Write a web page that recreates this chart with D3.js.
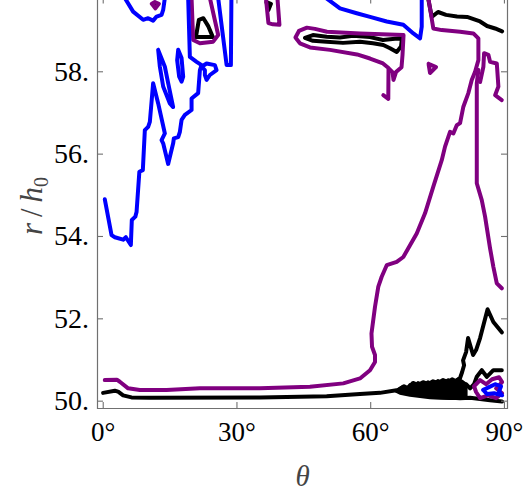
<!DOCTYPE html>
<html>
<head>
<meta charset="utf-8">
<script src="https://cdn.jsdelivr.net/npm/d3@7"></script>
<style>
  body { margin: 0; background: #fff; }
</style>
</head>
<body>
<div id="chart"></div>
<script>
// contour lines, each point is [theta in degrees, r/h0]
var blueLines = [
  [[0.47,54.89],[1.98,54.02],[2.72,53.97],[4.58,53.91],[5.19,53.97],[6.31,53.78],[6.53,54.39],[7.32,54.47],[7.59,54.58],[8.22,55.56],[9.00,55.60],[9.45,56.57],[10.19,56.65],[10.57,56.77],[11.31,57.71],[12.44,57.22],[13.94,56.49],[13.20,56.33],[13.56,56.25],[14.68,55.75],[15.80,56.25],[15.96,56.37],[16.93,56.40],[17.31,56.53],[17.69,56.82],[18.43,56.94],[19.93,57.06],[19.93,57.34],[21.41,57.47],[21.80,58.03],[22.18,58.15],[21.06,58.23],[19.55,58.35],[19.17,59.78]],
  [[4.96,59.78],[6.82,59.45],[9.07,59.25],[10.19,59.29],[11.31,59.23],[12.08,59.33],[13.20,59.37],[13.56,59.49],[13.94,59.78]],
  [[12.44,58.52],[13.94,58.11],[14.68,57.71],[15.80,57.13],[15.06,57.22],[13.56,57.63],[12.82,58.11],[12.44,58.52]],
  [[16.93,58.52],[17.69,58.32],[18.05,57.87],[17.69,57.75],[17.15,57.87],[16.70,58.27],[16.93,58.52]],
  [[22.18,58.11],[23.30,58.19],[25.16,58.15],[25.54,58.03],[24.04,57.91],[23.30,57.79],[22.92,57.91],[22.92,58.03],[22.18,58.11]],
  [[25.90,59.78],[27.79,58.15],[28.75,58.15],[28.87,59.78]],
  [[50.08,59.78],[53.22,59.53],[56.97,59.41],[59.96,59.32],[63.71,59.21],[67.43,59.13],[69.68,58.92],[71.18,58.80],[71.56,59.08],[71.56,59.78]],
  [[85.32,50.26],[86.66,50.33],[88.02,50.40],[89.36,50.35],[88.91,50.23],[89.59,50.13],[87.79,50.18],[86.22,50.16],[85.32,50.26]]
];

var purpleLines = [
  [[19.93,59.78],[20.29,58.76],[21.80,58.68],[24.78,58.72],[25.90,58.88],[24.04,59.78]],
  [[11.02,59.64],[11.70,59.68],[12.59,59.64],[11.81,59.53],[11.02,59.64]],
  [[36.61,59.78],[37.17,59.17],[38.18,59.14],[39.64,59.13],[39.31,59.61],[39.19,59.78]],
  [[62.94,57.42],[64.06,57.33],[64.11,58.08],[62.87,58.19],[59.96,58.31],[57.04,58.41],[50.98,58.52],[46.49,58.58],[44.24,58.68],[43.23,58.82],[44.02,58.98],[45.81,59.06],[47.61,59.03],[50.30,58.96],[57.71,58.92],[67.48,58.88],[67.25,58.40],[67.03,58.10],[65.79,57.98],[65.23,57.79],[65.01,57.98],[64.22,58.06]],
  [[73.09,58.18],[74.77,58.10],[73.42,57.96],[73.09,58.18]],
  [[73.04,59.78],[74.16,59.04],[76.05,59.00],[80.16,58.96],[83.14,58.92],[84.27,58.80],[84.27,58.27],[83.53,57.99],[82.78,57.79],[82.02,57.47],[80.90,57.14],[80.16,56.74],[79.42,56.69],[78.65,56.49],[77.91,56.53],[76.79,56.17],[76.05,55.84],[74.16,55.20],[72.30,54.55],[70.44,54.06],[68.55,53.70],[67.43,53.49],[65.95,53.37],[63.71,53.29],[62.58,53.01],[61.82,52.77],[61.08,52.28],[60.29,51.63],[60.41,51.31],[61.08,51.11],[61.08,50.94],[59.96,50.74],[57.71,50.54],[53.96,50.42],[46.49,50.34],[35.26,50.30],[21.80,50.30],[14.32,50.26],[8.33,50.26],[5.70,50.30],[3.84,50.46],[3.17,50.51],[0.47,50.50]],
  [[84.27,58.03],[83.91,57.71],[83.91,56.49],[83.91,55.28],[85.03,54.87],[85.77,54.47],[86.89,53.70],[87.63,53.25],[88.40,52.85],[89.52,52.73]],
  [[84.65,57.74],[85.39,58.11],[85.55,58.44],[86.51,58.40],[86.89,58.23],[88.40,58.19],[88.76,57.63],[88.02,57.42],[89.52,57.30]],
  [[83.30,50.35],[84.65,50.50],[85.99,50.40],[87.34,50.52],[88.91,50.57],[89.59,50.45],[88.24,50.30],[89.59,50.18],[88.24,50.06],[86.44,50.13],[84.65,50.06],[83.75,50.21],[83.30,50.35]]
];

var blackLines = [
  [[20.90,58.83],[21.57,59.25],[22.58,59.29],[23.70,59.09],[24.71,58.83],[20.90,58.83]],
  [[11.36,59.62],[11.81,59.66],[12.26,59.62],[11.81,59.56],[11.36,59.62]],
  [[36.72,59.68],[37.73,59.64],[37.17,59.49],[36.72,59.68]],
  [[45.37,58.81],[47.16,58.88],[50.24,58.84],[53.22,58.82],[56.14,58.86],[59.96,58.83],[62.87,58.76],[67.14,58.81],[66.91,58.60],[65.95,58.47],[64.45,58.56],[62.94,58.64],[60.63,58.68],[57.71,58.72],[53.90,58.69],[50.24,58.72],[47.16,58.74],[45.37,58.81]],
  [[72.98,59.78],[73.81,59.32],[75.22,59.44],[77.02,59.37],[79.48,59.33],[81.73,59.32],[84.65,59.21],[86.22,59.10],[88.02,59.04],[89.59,58.97]],
  [[0.09,50.19],[2.72,50.24],[3.46,50.22],[4.58,50.13],[6.46,50.08],[10.57,50.07],[35.26,50.08],[50.24,50.11],[57.71,50.16],[62.20,50.19],[66.24,50.26],[67.59,50.35],[68.49,50.30],[69.61,50.43],[70.73,50.38],[71.86,50.45],[72.98,50.40],[74.10,50.47],[75.22,50.43],[76.35,50.50],[77.47,50.45],[78.37,50.52],[79.26,50.47],[80.16,50.55],[80.61,50.69],[81.06,50.86],[80.83,50.98],[81.51,51.18],[81.96,51.52],[83.08,51.11],[83.75,51.23],[84.65,51.52],[86.33,52.22],[87.63,51.91],[89.52,51.66]],
  [[66.69,50.23],[68.04,50.28],[69.39,50.23],[70.73,50.30],[72.08,50.26],[73.43,50.33],[74.77,50.28],[76.12,50.35],[77.47,50.30],[78.82,50.38],[80.16,50.33],[81.51,50.40],[82.41,50.30],[83.30,50.40],[83.91,50.58],[85.03,50.74],[86.15,50.58],[87.63,50.74],[89.52,50.74]],
  [[66.69,50.23],[71.18,50.13],[75.67,50.09],[80.16,50.06],[82.41,50.07],[84.65,50.04],[86.89,50.01],[89.59,49.98]]
];

// where many black levels crowd together near the bottom they merge into a band
var blackBand = [[65.79,50.23],[67.14,50.33],[68.04,50.28],[68.94,50.39],[69.84,50.34],[70.73,50.44],[71.86,50.38],[72.98,50.46],[74.10,50.40],[75.22,50.49],[76.35,50.43],[77.47,50.51],[78.59,50.45],[79.71,50.53],[80.61,50.47],[81.51,50.40],[81.51,50.11],[80.16,50.05],[77.92,50.05],[75.67,50.06],[73.43,50.07],[71.18,50.10],[68.94,50.13],[66.69,50.18]];

var xTicks = [0, 30, 60, 90];
var yTicks = [50, 52, 54, 56, 58];

var svgWidth = 523;
var svgHeight = 495;

var plotLeft = 97.5, plotRight = 507.5, plotTop = -2, plotBottom = 408.5;
var serif = "'Liberation Serif', 'Times New Roman', serif";

var svg = d3.select("#chart")
  .append("svg")
  .attr("width", svgWidth)
  .attr("height", svgHeight);

var xScale = d3.scaleLinear().domain([-1.17, 90.8]).range([plotLeft, plotRight]);
var yScale = d3.scaleLinear().domain([49.81, 59.78]).range([plotBottom, plotTop]);

svg.append("clipPath")
  .attr("id", "plotClip")
  .append("rect")
  .attr("x", plotLeft)
  .attr("y", plotTop)
  .attr("width", plotRight - plotLeft)
  .attr("height", plotBottom - plotTop);

var line = d3.line()
  .x(d => xScale(d[0]))
  .y(d => yScale(d[1]));

var curves = svg.append("g").attr("clip-path", "url(#plotClip)");

curves.append("path")
  .attr("d", line(blackBand) + "Z")
  .attr("fill", "#000")
  .attr("stroke", "#000")
  .attr("stroke-width", 3)
  .attr("stroke-linejoin", "round");

// draw lower levels first
[[blackLines, "#000000"], [purpleLines, "#800080"], [blueLines, "#0000ff"]].forEach(function(set) {
  curves.selectAll(null)
    .data(set[0])
    .enter()
    .append("path")
    .attr("d", line)
    .attr("fill", "none")
    .attr("stroke", set[1])
    .attr("stroke-width", 4)
    .attr("stroke-linejoin", "round")
    .attr("stroke-linecap", "round");
});

// frame: ticks point inward like the original
var frameColor = "#707070";

var bottomAxis = d3.axisBottom(xScale)
  .tickValues(xTicks)
  .tickSizeInner(-6)
  .tickSizeOuter(0)
  .tickPadding(14)
  .tickFormat(d => d + "°");

var leftAxis = d3.axisLeft(yScale)
  .tickValues(yTicks)
  .tickSizeInner(-6)
  .tickSizeOuter(0)
  .tickPadding(8)
  .tickFormat(d => d + ".");

var topAxis = d3.axisTop(xScale).tickValues(xTicks).tickSizeInner(-6).tickSizeOuter(0).tickFormat("");
var rightAxis = d3.axisRight(yScale).tickValues(yTicks).tickSizeInner(-6).tickSizeOuter(0).tickFormat("");

var xAxisG = svg.append("g")
  .attr("transform", `translate(0, ${plotBottom - 0.5})`)
  .call(bottomAxis);

var yAxisG = svg.append("g")
  .attr("transform", `translate(${plotLeft - 0.5}, 0)`)
  .call(leftAxis);

svg.append("g")
  .attr("transform", `translate(0, ${plotTop - 0.5})`)
  .call(topAxis);

svg.append("g")
  .attr("transform", `translate(${plotRight - 0.5}, 0)`)
  .call(rightAxis);

svg.selectAll(".domain").attr("stroke", frameColor).attr("stroke-width", 1.2);
svg.selectAll(".tick line").attr("stroke", frameColor).attr("stroke-width", 1.1);
svg.selectAll(".tick text")
  .attr("font-family", serif)
  .attr("font-size", 28)
  .attr("fill", "#000");
xAxisG.selectAll(".tick text").attr("font-size", 27);

// axis titles
svg.append("text")
  .attr("x", (plotLeft + plotRight) / 2)
  .attr("y", 486)
  .attr("text-anchor", "middle")
  .attr("font-family", serif)
  .attr("font-style", "italic")
  .attr("font-size", 29)
  .attr("fill", "#444")
  .text("θ");

var yTitle = svg.append("text")
  .attr("transform", "translate(42, 206) rotate(-90)")
  .attr("text-anchor", "middle")
  .attr("font-family", serif)
  .attr("font-size", 31)
  .attr("fill", "#444");

yTitle.append("tspan").attr("font-style", "italic").text("r");
yTitle.append("tspan").attr("dx", 6).text("/");
yTitle.append("tspan").attr("dx", 6).attr("font-style", "italic").text("h");
yTitle.append("tspan").attr("font-size", 20).attr("dy", 6).text("0");
</script>
</body>
</html>
